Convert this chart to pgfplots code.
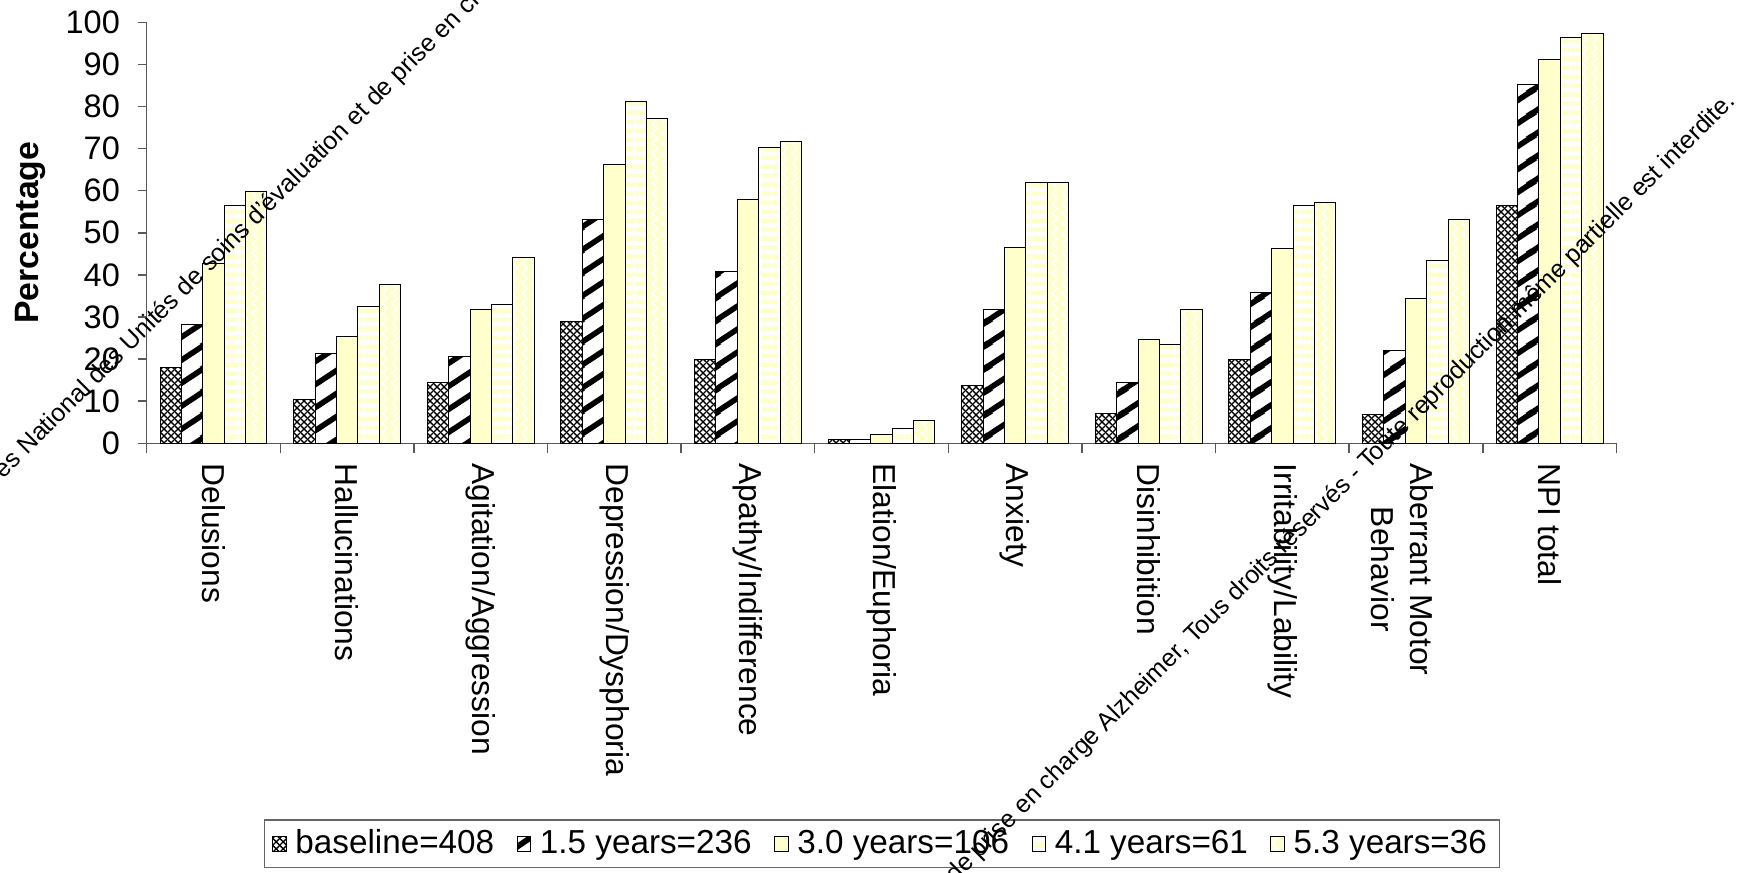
\documentclass[border=0pt]{standalone}
\usepackage{pgfplots}
\pgfplotsset{compat=1.18}
\usepackage{fontspec}
\setmainfont{Liberation Sans}
\usetikzlibrary{patterns}
\definecolor{lyellow}{HTML}{FFFFCC}

\pgfdeclarepatternformonly{mychecker}{\pgfqpoint{0pt}{0pt}}{\pgfqpoint{2.8pt}{2.8pt}}{\pgfqpoint{2.8pt}{2.8pt}}{%
  \pgfsetlinewidth{0.6pt}%
  \pgfpathmoveto{\pgfqpoint{-0.5pt}{-0.5pt}}\pgfpathlineto{\pgfqpoint{3.3pt}{3.3pt}}%
  \pgfpathmoveto{\pgfqpoint{-0.5pt}{3.3pt}}\pgfpathlineto{\pgfqpoint{3.3pt}{-0.5pt}}%
  \pgfusepath{stroke}}
\pgfdeclarepatternformonly{mystripes}{\pgfqpoint{0pt}{0pt}}{\pgfqpoint{13.7pt}{9.2pt}}{\pgfqpoint{13.7pt}{9.2pt}}{%
  \pgfsetlinewidth{2.3pt}%
  \pgfpathmoveto{\pgfqpoint{-1pt}{-0.6715pt}}\pgfpathlineto{\pgfqpoint{14.7pt}{9.871pt}}%
  \pgfpathmoveto{\pgfqpoint{-1pt}{8.5285pt}}\pgfpathlineto{\pgfqpoint{14.7pt}{19.071pt}}%
  \pgfpathmoveto{\pgfqpoint{-1pt}{-9.8715pt}}\pgfpathlineto{\pgfqpoint{14.7pt}{0.671pt}}%
  \pgfusepath{stroke}}
\pgfdeclarepatternformonly{myhlines}{\pgfqpoint{0pt}{0pt}}{\pgfqpoint{3.4pt}{3.4pt}}{\pgfqpoint{3.4pt}{3.4pt}}{%
  \pgfpathrectangle{\pgfqpoint{0pt}{0pt}}{\pgfqpoint{3.4pt}{2pt}}%
  \pgfusepath{fill}}
\pgfdeclarepatternformonly{myzigzag}{\pgfqpoint{0pt}{0pt}}{\pgfqpoint{4pt}{4pt}}{\pgfqpoint{4pt}{4pt}}{%
  \pgfsetlinewidth{0.7pt}%
  \pgfpathmoveto{\pgfqpoint{0.8pt}{-0.4pt}}\pgfpathlineto{\pgfqpoint{3.2pt}{2pt}}\pgfpathlineto{\pgfqpoint{0.8pt}{4.4pt}}%
  \pgfusepath{stroke}}

\pgfplotsset{legimg/.style={legend image code/.code={\draw[##1, line width=0.4pt] (0pt,-3pt) rectangle (5.4pt,3pt);}}}

\begin{document}
\begin{tikzpicture}
\begin{axis}[
  at={(58.68pt,171.48pt)}, anchor=south west,
  width=587.88pt, height=168.4pt, scale only axis,
  ybar=0pt, bar width=0.16,
  xmin=-0.5, xmax=10.5, ymin=0, ymax=100,
  axis x line=bottom, axis y line=left,
  axis line style={-, draw=black!65, line width=0.6pt},
  tick style={black!65, line width=0.6pt},
  tick align=outside, major tick length=3.6pt, minor tick length=4pt,
  xtick={0,...,10},
  minor xtick={-0.5,0.5,...,10.5},
  major x tick style={draw=none},
  xticklabels={Delusions, Hallucinations, Agitation/Aggression, Depression/Dysphoria, Apathy/Indifference, Elation/Euphoria, Anxiety, Disinhibition, Irritability/Lability, {\rule{0pt}{20pt}Aberrant Motor\\Behavior}, NPI total},
  xticklabel style={rotate=-90, anchor=west, align=center, font=\fontsize{12.7}{15.5}\selectfont, xshift=1pt},
  ytick={0,10,...,100},
  yticklabel style={font=\fontsize{13}{15}\selectfont, xshift=-3.6pt},
  /pgf/number format/assume math mode=true,
  every axis y label/.style={at={(axis description cs:-0.0794,0.5)}, rotate=90, anchor=center, font=\fontsize{13.5}{16}\selectfont\bfseries},
  ylabel={Percentage},
  legend columns=5,
  legend style={at={(axis description cs:0.0798,-0.8924)}, anchor=north west, draw=black!60, line width=0.6pt, font=\fontsize{13.3}{15}\selectfont, /tikz/every even column/.append style={column sep=7pt}, /tikz/every odd column/.append style={column sep=1.5pt}},
]
\addplot[draw=black, line width=0.4pt, fill=white, postaction={pattern=mychecker, pattern color=black}, legimg] coordinates {
(0,18.0) (1,10.3) (2,14.5) (3,28.9) (4,19.9) (5,0.8) (6,13.8) (7,7.0) (8,19.9) (9,6.9) (10,56.4)};
\addplot[draw=black, line width=0.4pt, fill=white, postaction={pattern=mystripes, pattern color=black}, legimg] coordinates {
(0,28.3) (1,21.4) (2,20.6) (3,53.1) (4,40.8) (5,0.8) (6,31.8) (7,14.5) (8,35.8) (9,22.0) (10,85.3)};
\addplot[draw=black, line width=0.4pt, fill=lyellow, legimg] coordinates {
(0,42.8) (1,25.3) (2,31.7) (3,66.3) (4,57.8) (5,2.2) (6,46.4) (7,24.7) (8,46.2) (9,34.4) (10,91.2)};
\addplot[draw=black, line width=0.4pt, fill=white, postaction={pattern=myhlines, pattern color=lyellow}, legimg] coordinates {
(0,56.4) (1,32.4) (2,33.0) (3,81.3) (4,70.3) (5,3.6) (6,62.0) (7,23.5) (8,56.4) (9,43.5) (10,96.5)};
\addplot[draw=black, line width=0.4pt, fill=lyellow, postaction={pattern=myzigzag, pattern color=white}, legimg] coordinates {
(0,59.9) (1,37.8) (2,44.2) (3,77.2) (4,71.7) (5,5.5) (6,62.0) (7,31.7) (8,57.2) (9,53.1) (10,97.3)};
\legend{baseline=408, 1.5 years=236, 3.0 years=106, 4.1 years=61, 5.3 years=36}
\end{axis}
\node[rotate=45, anchor=base west, inner sep=0pt, font=\fontsize{10}{12}\selectfont] at (10.8pt,166.4pt) {\llap{Congrès }National des Unités de soins d'évaluation et de prise en charge Alzheimer, Tous droits réservés - Toute reproduction même partielle est interdite.};
\node[rotate=45, anchor=base east, inner sep=0pt, font=\fontsize{10}{12}\selectfont] at (694.8pt,308pt) {Congrès National des Unités de soins d'évaluation et de prise en charge Alzheimer, Tous droits réservés - Toute reproduction même partielle est interdite.};
\pgfresetboundingbox
\path (0,0) rectangle (699.6pt,348.8pt);
\end{tikzpicture}
\end{document}
